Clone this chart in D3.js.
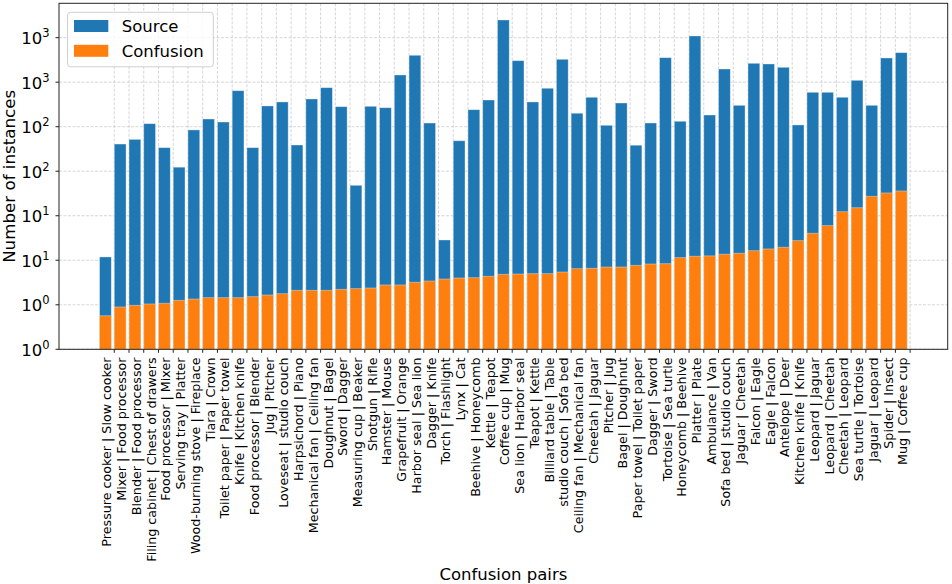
<!DOCTYPE html>
<html>
<head>
<meta charset="utf-8">
<script src="https://cdn.jsdelivr.net/npm/d3@7"></script>
<style>
  body { margin: 0; background: #fff; }
  svg { font-family: "DejaVu Sans", sans-serif; }
</style>
</head>
<body>
<div id="chart"></div>
<script>
// Confusion pairs (x axis categories)
const pairs = [
    "Pressure cooker | Slow cooker", "Mixer | Food processor", "Blender | Food processor",
    "Filing cabinet | Chest of drawers", "Food processor | Mixer", "Serving tray | Platter",
    "Wood-burning stove | Fireplace", "Tiara | Crown", "Toilet paper | Paper towel",
    "Knife | Kitchen knife", "Food processor | Blender", "Jug | Pitcher",
    "Loveseat | studio couch", "Harpsichord | Piano", "Mechanical fan | Ceiling fan",
    "Doughnut | Bagel", "Sword | Dagger", "Measuring cup | Beaker", "Shotgun | Rifle",
    "Hamster | Mouse", "Grapefruit | Orange", "Harbor seal | Sea lion", "Dagger | Knife",
    "Torch | Flashlight", "Lynx | Cat", "Beehive | Honeycomb", "Kettle | Teapot",
    "Coffee cup | Mug", "Sea lion | Harbor seal", "Teapot | Kettle", "Billiard table | Table",
    "studio couch | Sofa bed", "Ceiling fan | Mechanical fan", "Cheetah | Jaguar",
    "Pitcher | Jug", "Bagel | Doughnut", "Paper towel | Toilet paper", "Dagger | Sword",
    "Tortoise | Sea turtle", "Honeycomb | Beehive", "Platter | Plate", "Ambulance | Van",
    "Sofa bed | studio couch", "Jaguar | Cheetah", "Falcon | Eagle", "Eagle | Falcon",
    "Antelope | Deer", "Kitchen knife | Knife", "Leopard | Jaguar", "Leopard | Cheetah",
    "Cheetah | Leopard", "Sea turtle | Tortoise", "Jaguar | Leopard", "Spider | Insect",
    "Mug | Coffee cup"
];

// Source counts (blue)
const sourceValues = [
    10.9, 202, 228, 342, 184, 111, 291, 386, 357, 803,
    184, 541, 600, 197, 648, 868, 531, 69.5, 536, 517,
    1205, 2006, 348, 16.9, 220, 491, 631, 5000, 1745, 600,
    855, 1808, 448, 677, 328, 584, 196, 348, 1885, 364,
    3305, 428, 1407, 550, 1630, 1602, 1470, 331, 770, 770,
    677, 1050, 550, 1871, 2147
];

// Confusion counts (orange)
const confusionValues = [
    2.38, 2.99, 3.12, 3.23, 3.29, 3.55, 3.67, 3.80, 3.80, 3.80,
    3.90, 4.07, 4.21, 4.60, 4.60, 4.60, 4.72, 4.80, 4.88, 5.28,
    5.28, 5.66, 5.85, 6.16, 6.32, 6.37, 6.61, 6.96, 7.01, 7.07,
    7.07, 7.38, 8.04, 8.13, 8.40, 8.40, 8.78, 9.08, 9.15, 10.7,
    11.1, 11.2, 11.7, 12.0, 12.8, 13.4, 14.0, 16.6, 20.1, 24.5,
    35.1, 38.9, 52.3, 57.0, 60.0
];

// Y ticks (half decades) and their printed exponents
const yTickValues = [1, 3.162, 10, 31.62, 100, 316.2, 1000, 3162];
const yTickExponents = ["0", "0", "1", "1", "2", "2", "3", "3"];

const seriesNames = ["Source", "Confusion"];
const seriesColors = ["#1f77b4", "#ff7f0e"];

// SVG setup
const width = 952, height = 584;
const plotLeft = 59, plotRight = 947.7, plotTop = 3.3, plotBottom = 349.3;

const svg = d3.select("#chart")
    .append("svg")
    .attr("width", width)
    .attr("height", height);

const x = d3.scaleLinear().domain([-3.15, 57.15]).range([plotLeft, plotRight]);
const y = d3.scaleLog().domain([1, Math.pow(10, 3.886)]).range([plotBottom, plotTop]);
const barW = x(0.8) - x(0);
const tickPos = pairs.map((d, i) => i + 0.6);

// grid (behind the bars)
svg.append("g").selectAll("line")
    .data(yTickValues)
    .enter()
    .append("line")
    .attr("x1", plotLeft).attr("x2", plotRight)
    .attr("y1", d => y(d)).attr("y2", d => y(d))
    .style("stroke", "#c4c4c4")
    .style("stroke-width", 0.7)
    .style("stroke-dasharray", "3,1.5");

svg.append("g").selectAll("line")
    .data(tickPos)
    .enter()
    .append("line")
    .attr("x1", d => x(d)).attr("x2", d => x(d))
    .attr("y1", plotTop).attr("y2", plotBottom)
    .style("stroke", "#c4c4c4")
    .style("stroke-width", 0.7)
    .style("stroke-dasharray", "3,1.5");

// bars: source first, confusion drawn on top
[sourceValues, confusionValues].forEach((vals, k) => {
    svg.append("g").selectAll("rect")
        .data(vals)
        .enter()
        .append("rect")
        .attr("x", (d, i) => x(i) - barW / 2)
        .attr("width", barW)
        .attr("y", d => y(d))
        .attr("height", d => plotBottom - y(d))
        .style("fill", seriesColors[k])
        .style("stroke", "#fff")
        .style("stroke-opacity", 0.45)
        .style("stroke-width", 0.8);
});

// frame
svg.append("rect")
    .attr("x", plotLeft).attr("y", plotTop)
    .attr("width", plotRight - plotLeft).attr("height", plotBottom - plotTop)
    .style("fill", "none")
    .style("stroke", "#222")
    .style("stroke-width", 1);

// y ticks + labels
const yTicks = svg.append("g").selectAll("g")
    .data(yTickValues)
    .enter()
    .append("g")
    .attr("transform", d => `translate(0,${y(d)})`);

yTicks.append("line")
    .attr("x1", plotLeft - 3.5).attr("x2", plotLeft)
    .style("stroke", "#222");

const yText = yTicks.append("text")
    .attr("x", plotLeft - 9.5)
    .attr("y", 6.5)
    .attr("text-anchor", "end")
    .style("font-size", "16.5px")
    .style("fill", "#000");
yText.append("tspan").text("10");
yText.append("tspan")
    .attr("dy", -7)
    .style("font-size", "11.5px")
    .text((d, i) => yTickExponents[i]);

// x ticks + rotated labels
const xTicks = svg.append("g").selectAll("g")
    .data(pairs)
    .enter()
    .append("g")
    .attr("transform", (d, i) => `translate(${x(tickPos[i])},0)`);

xTicks.append("line")
    .attr("y1", plotBottom).attr("y2", plotBottom + 3.5)
    .style("stroke", "#222");

xTicks.append("text")
    .attr("transform", `translate(-2.8,${plotBottom + 8.2}) rotate(-90)`)
    .attr("text-anchor", "end")
    .style("font-size", "12.7px")
    .style("fill", "#000")
    .text(d => d);

// axis titles
svg.append("text")
    .attr("x", (plotLeft + plotRight) / 2)
    .attr("y", 580)
    .attr("text-anchor", "middle")
    .style("font-size", "16.5px")
    .text("Confusion pairs");

svg.append("text")
    .attr("transform", `translate(15,${(plotTop + plotBottom) / 2}) rotate(-90)`)
    .attr("text-anchor", "middle")
    .style("font-size", "16.7px")
    .text("Number of instances");

// legend
const legend = svg.append("g");
legend.append("rect")
    .attr("x", 67.5).attr("y", 12.3)
    .attr("width", 145.8).attr("height", 54.5)
    .attr("rx", 3)
    .style("fill", "#fff")
    .style("fill-opacity", 0.8)
    .style("stroke", "#d0d0d0");

seriesNames.forEach((name, k) => {
    legend.append("rect")
        .attr("x", 74).attr("y", 20 + k * 24.8)
        .attr("width", 34.3).attr("height", 12)
        .style("fill", seriesColors[k]);
    legend.append("text")
        .attr("x", 121.7).attr("y", 32 + k * 24.8)
        .style("font-size", "16.5px")
        .text(name);
});
</script>
</body>
</html>
